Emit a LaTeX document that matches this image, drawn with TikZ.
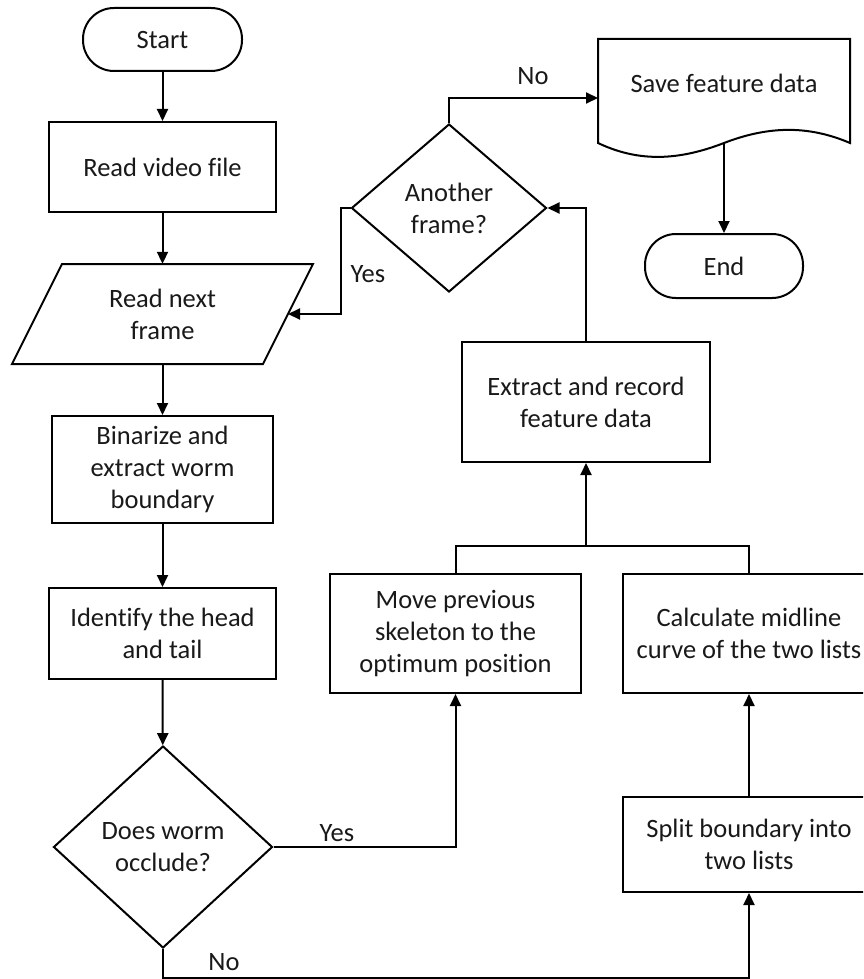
\documentclass[tikz,border=0pt]{standalone}
\usepackage{fontspec}
\setmainfont{Carlito}[Ligatures=NoCommon]
\usetikzlibrary{shapes.geometric,arrows.meta}
\begin{document}
\begin{tikzpicture}[x=1pt,y=-1pt,
  every node/.style={font=\fontsize{26.5}{32}\selectfont, align=center, inner sep=0pt, text=black!90},
  box/.style={draw, rectangle, line width=2pt},
  term/.style={draw, rectangle, rounded corners=31pt, line width=2pt},
  dec/.style={draw, diamond, line width=2pt},
  link/.style={line width=2pt, line join=miter},
  arr/.style={link, -{Triangle[length=12pt,width=11pt]}}]
\clip (0,0) rectangle (863,979);
\fill[white] (0,0) rectangle (863,979);

% left column
\node[term, minimum width=159, minimum height=63] (start) at (162.5,39.5) {Start};
\node[box, minimum width=227, minimum height=90] (video) at (162.5,167) {Read video file};
\node[minimum width=251, minimum height=100] (frame) at (162.5,314) {Read next\\frame};
\draw[link] (12,364) -- (62,264) -- (313,264) -- (263,364) -- cycle;
\coordinate (frameR) at (288,314);
\node[box, minimum width=221, minimum height=107] (binar) at (162.5,469.5) {Binarize and\\extract worm\\boundary};
\node[box, minimum width=227, minimum height=91] (ident) at (162.5,633.5) {Identify the head\\and tail};
\node[dec, minimum width=219, minimum height=202] (occl) at (163,847) {Does worm\\occlude?};

% middle and right
\node[dec, minimum width=195, minimum height=168] (another) at (449,208) {Another\\frame?};
\node[box, minimum width=248, minimum height=120] (extract) at (586,402) {Extract and record\\feature data};
\node[box, minimum width=251, minimum height=119] (move) at (455.5,633.5) {Move previous\\skeleton to the\\optimum position};
\node[box, minimum width=252, minimum height=119] (calc) at (749,633.5) {Calculate midline\\curve of the two lists};
\node[box, minimum width=252, minimum height=95] (split) at (749,844.5) {Split boundary into\\two lists};

% document shape
\node (save) at (724,83) {Save feature data};
\draw[link] (598,143) -- (598,39) -- (850,39) -- (850,143)
  .. controls (808,125) and (768,126) .. (724,143)
  .. controls (680,160) and (640,163) .. (598,143) -- cycle;
\node[term, minimum width=158, minimum height=64] (end) at (724,266) {End};

\coordinate (saveOut) at (724,143);
\coordinate (saveIn) at (598,98);
\coordinate (join) at (586,546);

% connectors
\draw[arr] (start) -- (video);
\draw[arr] (video) -- (frame);
\draw[arr] (frame) -- (binar);
\draw[arr] (binar) -- (ident);
\draw[arr] (ident) -- (occl);
\draw[arr] (occl.east) -| (move.south);
\draw[arr] (occl.south) -- ++(0,29) -| (split.south);
\draw[link] (move.north) |- (join) -| (calc.north);
\draw[arr] (join) -- (extract.south);
\draw[arr] (split) -- (calc);
\draw[arr] (extract.north) |- (another.east);
\draw[arr] (another.west) -- ++(-10,0) |- (frameR);
\draw[arr] (another.north) |- (saveIn);
\draw[arr] (saveOut) -- (end.north);

% branch labels
\node[anchor=base] (yesA) at (337,841) {Yes};
\node[anchor=base] (noA) at (224,970) {No};
\node[anchor=base] (yesB) at (368,282) {Yes};
\node[anchor=base] (noB) at (533,85) {No};
\end{tikzpicture}
\end{document}
